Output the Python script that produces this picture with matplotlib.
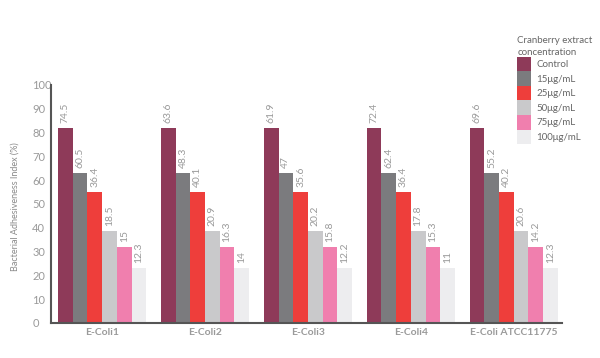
import matplotlib
matplotlib.use("Agg")
import matplotlib.pyplot as plt
import numpy as np

plt.rcParams['font.family'] = ['Lato', 'DejaVu Sans']

strains = ['E-Coli1', 'E-Coli2', 'E-Coli3', 'E-Coli4', 'E-Coli ATCC11775']
series = ['Control', '15μg/mL', '25μg/mL', '50μg/mL', '75μg/mL', '100μg/mL']
colors = ['#8e3a59', '#7b7b7e', '#ee3e3b', '#c9c9cb', '#f07fae', '#ededef']

# the drawn bars are the same height in every group
bar_heights = [82.0, 63.0, 55.0, 38.5, 32.0, 23.0]

# printed values per strain (one row per strain, one column per series)
labels_ecoli1 = ['74.5', '60.5', '36.4', '18.5', '15', '12.3']
labels_ecoli2 = ['63.6', '48.3', '40.1', '20.9', '16.3', '14']
labels_ecoli3 = ['61.9', '47', '35.6', '20.2', '15.8', '12.2']
labels_ecoli4 = ['72.4', '62.4', '36.4', '17.8', '15.3', '11']
labels_atcc = ['69.6', '55.2', '40.2', '20.6', '14.2', '12.3']
value_labels = [labels_ecoli1, labels_ecoli2, labels_ecoli3, labels_ecoli4, labels_atcc]

fig = plt.figure(figsize=(6, 3.58), dpi=100)
ax = fig.add_axes([0.085, 0.098, 0.852, 0.665])

gray_txt = '#9a9a9a'
group_step = 7

for j in range(len(series)):
    xs = [i * group_step + j for i in range(len(strains))]
    hs = [bar_heights[j]] * len(strains)
    ax.bar(xs, hs, width=1.0, color=colors[j], label=series[j], linewidth=0)
    for i, x in enumerate(xs):
        ax.text(x, hs[i] + 2.0, value_labels[i][j], rotation=90, ha='center', va='bottom',
                fontsize=7.5, color=gray_txt)

ax.set_xlim(-0.98, 33.8)
ax.set_ylim(0, 100)
ax.set_yticks(np.arange(0, 101, 10))
ax.set_xticks([i * group_step + 2.5 for i in range(len(strains))])
ax.set_xticklabels(strains, fontweight='bold', color=gray_txt, fontsize=7.5)
ax.tick_params(axis='y', length=0, labelsize=8, labelcolor=gray_txt, pad=13.5)
for lab in ax.get_yticklabels():
    lab.set_horizontalalignment('left')
ax.tick_params(axis='x', length=0, pad=4)
ax.set_ylabel('Bacterial Adhesiveness Index (%)', fontsize=6.5, color='#8a8a8a')
ax.yaxis.set_label_coords(-0.062, 0.49)

for s in ['top', 'right']:
    ax.spines[s].set_visible(False)
for s in ['left', 'bottom']:
    ax.spines[s].set_color('#555555')
    ax.spines[s].set_linewidth(1.5)

leg = fig.legend(loc='upper left', bbox_to_anchor=(0.862, 0.9), frameon=False,
                 title='Cranberry extract\nconcentration', fontsize=7, title_fontsize=7,
                 handlelength=1.44, handleheight=1.92, labelspacing=0, handletextpad=0.5,
                 borderpad=0, borderaxespad=0, alignment='left')
for t in leg.get_texts():
    t.set_color('#666666')
leg.get_title().set_color('#666666')
leg.get_title().set_linespacing(1.45)

fig.savefig('out.png', dpi=100, facecolor='white')
